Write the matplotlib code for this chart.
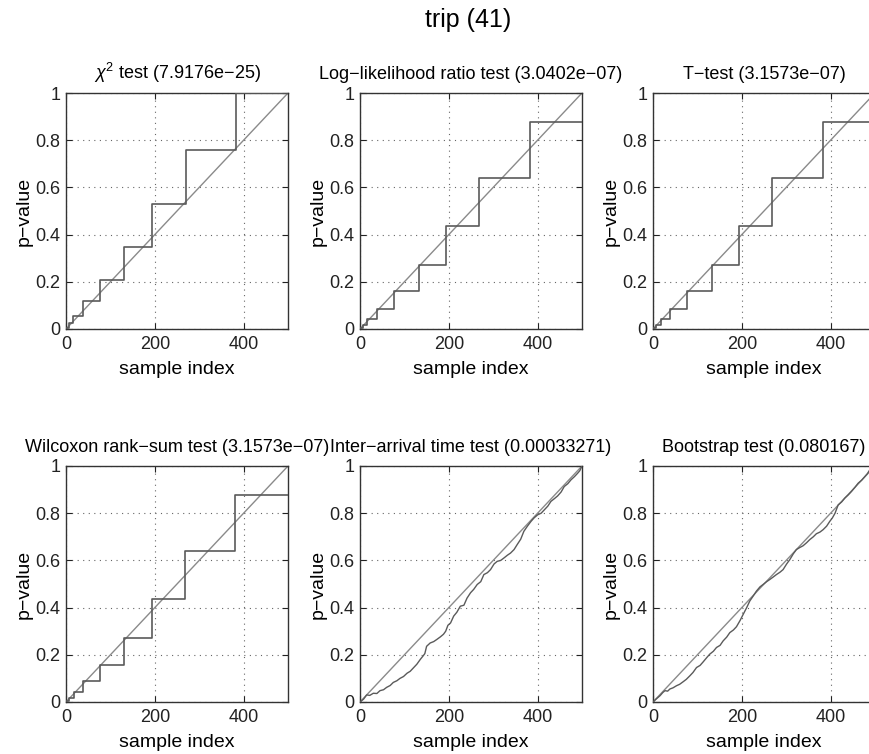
import matplotlib
matplotlib.use("Agg")
import matplotlib.pyplot as plt

plt.rcParams['font.family'] = ['Liberation Sans', 'DejaVu Sans']
plt.rcParams['mathtext.fontset'] = 'custom'
plt.rcParams['mathtext.rm'] = 'Liberation Sans'
plt.rcParams['mathtext.it'] = 'Liberation Sans:italic'
plt.rcParams['font.size'] = 13

# step curves (sorted p-values), edges in sample index
chi_edges = [0, 7, 15, 38, 76, 131, 193, 270, 382, 500]
chi_levels = [0.004, 0.024, 0.055, 0.117, 0.209, 0.346, 0.531, 0.757, 1.0]

llr_edges = [0, 6, 16, 38, 76, 132, 193, 269, 383, 500]
llr_levels = [0.004, 0.018, 0.041, 0.085, 0.159, 0.272, 0.435, 0.638, 0.876]

t_edges = [0, 6, 17, 39, 76, 133, 193, 269, 382, 500]
t_levels = [0.004, 0.018, 0.042, 0.086, 0.160, 0.272, 0.435, 0.638, 0.877]

wil_edges = [0, 6, 17, 38, 76, 131, 193, 268, 381, 500]
wil_levels = [0.004, 0.019, 0.042, 0.087, 0.158, 0.272, 0.435, 0.641, 0.878]

inter_x = [0, 8, 15, 22, 30, 38, 45, 53, 60, 68, 75, 83, 90, 98, 106, 113, 121,
           128, 136, 142, 146, 150, 158, 166, 173, 181, 188, 193, 198, 204, 211,
           218, 226, 234, 241, 249, 256, 264, 272, 279, 287, 294, 302, 309, 317,
           324, 332, 339, 347, 354, 362, 369, 377, 385, 392, 400, 408, 415, 423,
           430, 438, 445, 453, 460, 468, 475, 483, 490, 495, 500]
inter_y = [0, 0.012, 0.03, 0.028, 0.037, 0.036, 0.048, 0.052, 0.062, 0.07, 0.083,
           0.09, 0.1, 0.108, 0.122, 0.13, 0.146, 0.16, 0.181, 0.195, 0.205, 0.236,
           0.25, 0.256, 0.265, 0.276, 0.287, 0.3, 0.325, 0.335, 0.364, 0.38, 0.406,
           0.41, 0.44, 0.463, 0.477, 0.498, 0.51, 0.54, 0.548, 0.561, 0.585, 0.596,
           0.6, 0.61, 0.622, 0.631, 0.646, 0.667, 0.69, 0.723, 0.745, 0.765, 0.78,
           0.793, 0.8, 0.814, 0.83, 0.85, 0.862, 0.873, 0.89, 0.913, 0.925, 0.941,
           0.955, 0.969, 0.98, 1.0]

boot_x = [0, 8, 16, 22, 27, 33, 38, 45, 53, 60, 68, 75, 83, 90, 98, 106, 113, 121,
          128, 136, 143, 151, 158, 166, 173, 181, 188, 196, 203, 211, 218, 226, 233,
          241, 248, 256, 263, 271, 278, 286, 293, 301, 308, 316, 323, 331, 338, 346,
          353, 361, 368, 376, 383, 391, 398, 404, 410, 417, 425, 432, 440, 447, 455,
          462, 470, 477, 483, 488, 494, 500]
boot_y = [0, 0.014, 0.027, 0.04, 0.048, 0.046, 0.055, 0.06, 0.069, 0.075, 0.086,
          0.096, 0.111, 0.125, 0.146, 0.155, 0.17, 0.188, 0.203, 0.215, 0.231, 0.24,
          0.259, 0.275, 0.294, 0.305, 0.319, 0.345, 0.371, 0.4, 0.428, 0.45, 0.47,
          0.488, 0.498, 0.51, 0.519, 0.53, 0.54, 0.55, 0.561, 0.585, 0.603, 0.628,
          0.646, 0.655, 0.662, 0.675, 0.688, 0.7, 0.713, 0.72, 0.73, 0.745, 0.765,
          0.78, 0.80, 0.835, 0.848, 0.864, 0.878, 0.892, 0.91, 0.927, 0.94, 0.955,
          0.968, 0.983, 0.99, 1.0]

titles = ["$\\chi^2$ test (7.9176e\u221225)",
          "Log\u2212likelihood ratio test (3.0402e\u221207)",
          "T\u2212test (3.1573e\u221207)",
          "Wilcoxon rank\u2212sum test (3.1573e\u221207)",
          "Inter\u2212arrival time test (0.00033271)",
          "Bootstrap test (0.080167)"]

xticks = [0, 200, 400]
yticks = [0, 0.2, 0.4, 0.6, 0.8, 1]
yticklabels = ["0", "0.2", "0.4", "0.6", "0.8", "1"]

W, H = 870, 754
fig = plt.figure(figsize=(W / 100, H / 100), dpi=100)

lefts = [66, 360, 653]
tops = [93, 466]
aw, ah = 222, 236

axes = []
for r in range(2):
    for c in range(3):
        ax = fig.add_axes([lefts[c] / W, (H - tops[r] - ah) / H, aw / W, ah / H])
        axes.append(ax)

diag_col = "#8a8a8a"
line_col = "#5a5a5a"

steps = [(chi_edges, chi_levels), (llr_edges, llr_levels),
         (t_edges, t_levels), (wil_edges, wil_levels)]

for i, ax in enumerate(axes):
    ax.plot([0, 500], [0, 1], color=diag_col, lw=1.0, zorder=2)
    if i < 4:
        e, lv = steps[i]
        ax.step(e, lv + [lv[-1]], where="post", color=line_col, lw=1.2, zorder=3)
    elif i == 4:
        ax.plot(inter_x, inter_y, color=line_col, lw=1.0, zorder=3)
    else:
        ax.plot(boot_x, boot_y, color=line_col, lw=1.0, zorder=3)

    ax.set_xlim(0, 500)
    ax.set_ylim(0, 1)
    ax.set_xticks(xticks)
    ax.set_yticks(yticks)
    ax.set_yticklabels(yticklabels)
    ax.tick_params(direction="in", length=4, top=True, right=True,
                   labelsize=13, colors="#222222")
    ax.tick_params(axis="x", pad=5)
    ax.tick_params(axis="y", pad=4)
    ax.grid(True, color="#666666", linestyle=(0, (1, 4)), lw=0.8)
    for s in ax.spines.values():
        s.set_color("#333333")
        s.set_linewidth(1.0)
    ax.set_title(titles[i], fontsize=13, pad=10)
    ax.set_xlabel("sample index", fontsize=14, labelpad=6)
    ax.set_ylabel("p\u2212value", fontsize=14, labelpad=2)

fig.text(468 / W, 1 - 20 / H, "trip (41)", ha="center", va="center", fontsize=18)

fig.savefig("out.png", dpi=100)
